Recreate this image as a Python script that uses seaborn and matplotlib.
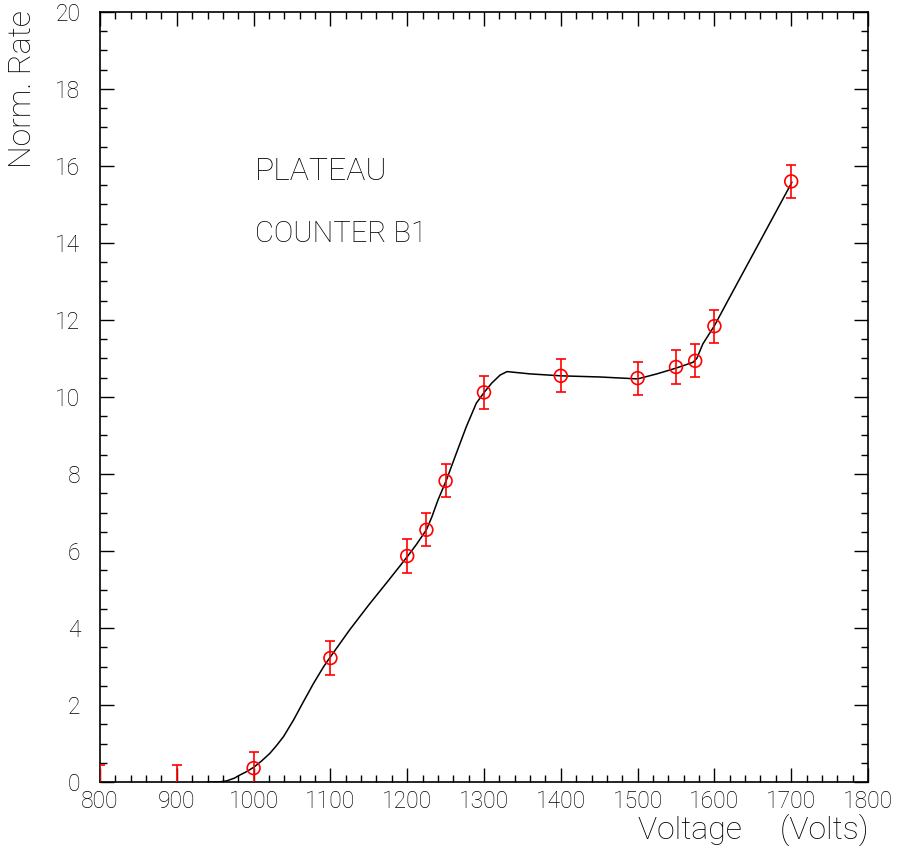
import numpy as np
import pandas as pd
import matplotlib
matplotlib.use("Agg")
import matplotlib.pyplot as plt
import seaborn as sns
from matplotlib.ticker import MultipleLocator

# data points
voltage = [800, 900, 1000, 1100, 1200, 1225, 1250, 1300, 1400, 1500, 1550, 1575, 1600, 1700]
rate = [0.0, 0.0, 0.36, 3.22, 5.87, 6.55, 7.82, 10.12, 10.55, 10.49, 10.78, 10.94, 11.84, 15.6]
rate_err = [0.44, 0.44, 0.43, 0.43, 0.43, 0.43, 0.43, 0.43, 0.43, 0.43, 0.43, 0.43, 0.43, 0.43]

# fitted curve
curve_v = [940, 955, 965, 975, 982, 990, 1000, 1010, 1021, 1030, 1039, 1052, 1065, 1078,
           1091, 1100, 1125, 1150, 1175, 1200, 1212, 1225, 1232, 1240, 1251, 1264, 1277,
           1290, 1301, 1310, 1321, 1330, 1360, 1400, 1451, 1500, 1525, 1550, 1572, 1577,
           1585, 1592, 1600, 1618, 1659, 1701]
curve_y = [0.0, 0.0, 0.03, 0.1, 0.18, 0.26, 0.38, 0.54, 0.74, 0.95, 1.18, 1.61, 2.09, 2.56,
           2.99, 3.25, 3.95, 4.6, 5.22, 5.85, 6.17, 6.55, 6.88, 7.32, 7.84, 8.54, 9.23,
           9.84, 10.14, 10.36, 10.57, 10.66, 10.6, 10.55, 10.52, 10.47, 10.6, 10.75, 10.9, 11.0,
           11.38, 11.6, 11.85, 12.52, 14.03, 15.58]

xlabel = "Voltage     (Volts)"
ylabel = "Norm. Rate"
title1 = "PLATEAU"
title2 = "COUNTER B1"

sns.set_style("ticks")
plt.rcParams['font.family'] = ['Roboto', 'DejaVu Sans']
plt.rcParams['font.weight'] = 'light'
plt.rcParams['text.color'] = 'black'
plt.rcParams['xtick.color'] = 'black'
plt.rcParams['ytick.color'] = 'black'
plt.rcParams['axes.edgecolor'] = 'black'

fig = plt.figure(figsize=(8.98, 8.46), dpi=100)
ax = fig.add_axes([100/898, 64/846, 768/898, 770/846])

df_pts = pd.DataFrame({"v": voltage, "r": rate, "e": rate_err})
df_curve = pd.DataFrame({"v": curve_v, "y": curve_y})

sns.lineplot(data=df_curve, x="v", y="y", color="black", lw=1.1, ax=ax, sort=False)

ax.errorbar(df_pts["v"], df_pts["r"], yerr=df_pts["e"], fmt="none", ecolor="red",
            elinewidth=1.2, capsize=3.8, capthick=1.2, zorder=3)
vis = df_pts[df_pts["r"] > 0]
sns.scatterplot(data=vis, x="v", y="r", marker="o", s=85, facecolors="none",
                edgecolor="red", linewidth=1.2, ax=ax, zorder=4)

ax.set_xlim(800, 1800)
ax.set_ylim(0, 20)
ax.xaxis.set_major_locator(MultipleLocator(100))
ax.xaxis.set_minor_locator(MultipleLocator(20))
ax.yaxis.set_major_locator(MultipleLocator(2))
ax.yaxis.set_minor_locator(MultipleLocator(0.5))
ax.tick_params(which="both", direction="in", top=True, right=True, color="black",
               labelcolor="black")
ax.tick_params(which="major", length=10, width=1.0, labelsize=16.5)
ax.tick_params(which="minor", length=5, width=1.0)
ax.tick_params(axis="y", which="major", pad=14)
ax.tick_params(axis="x", which="major", pad=6)
for s in ax.spines.values():
    s.set_linewidth(1.2)
    s.set_visible(True)
    s.set_color("black")
ax.set_xlabel("")
ax.set_ylabel("")

fig.text(23/898, 1 - 10/846, ylabel, rotation=90, ha="center", va="top", fontsize=23)
fig.text(868/898, 7/846, xlabel, ha="right", va="baseline", fontsize=23)

ax.text(1002, 15.87, title1, ha="left", va="center", fontsize=23)
ax.text(1002, 14.23, title2, ha="left", va="center", fontsize=21)

fig.savefig("out.png", dpi=100)
